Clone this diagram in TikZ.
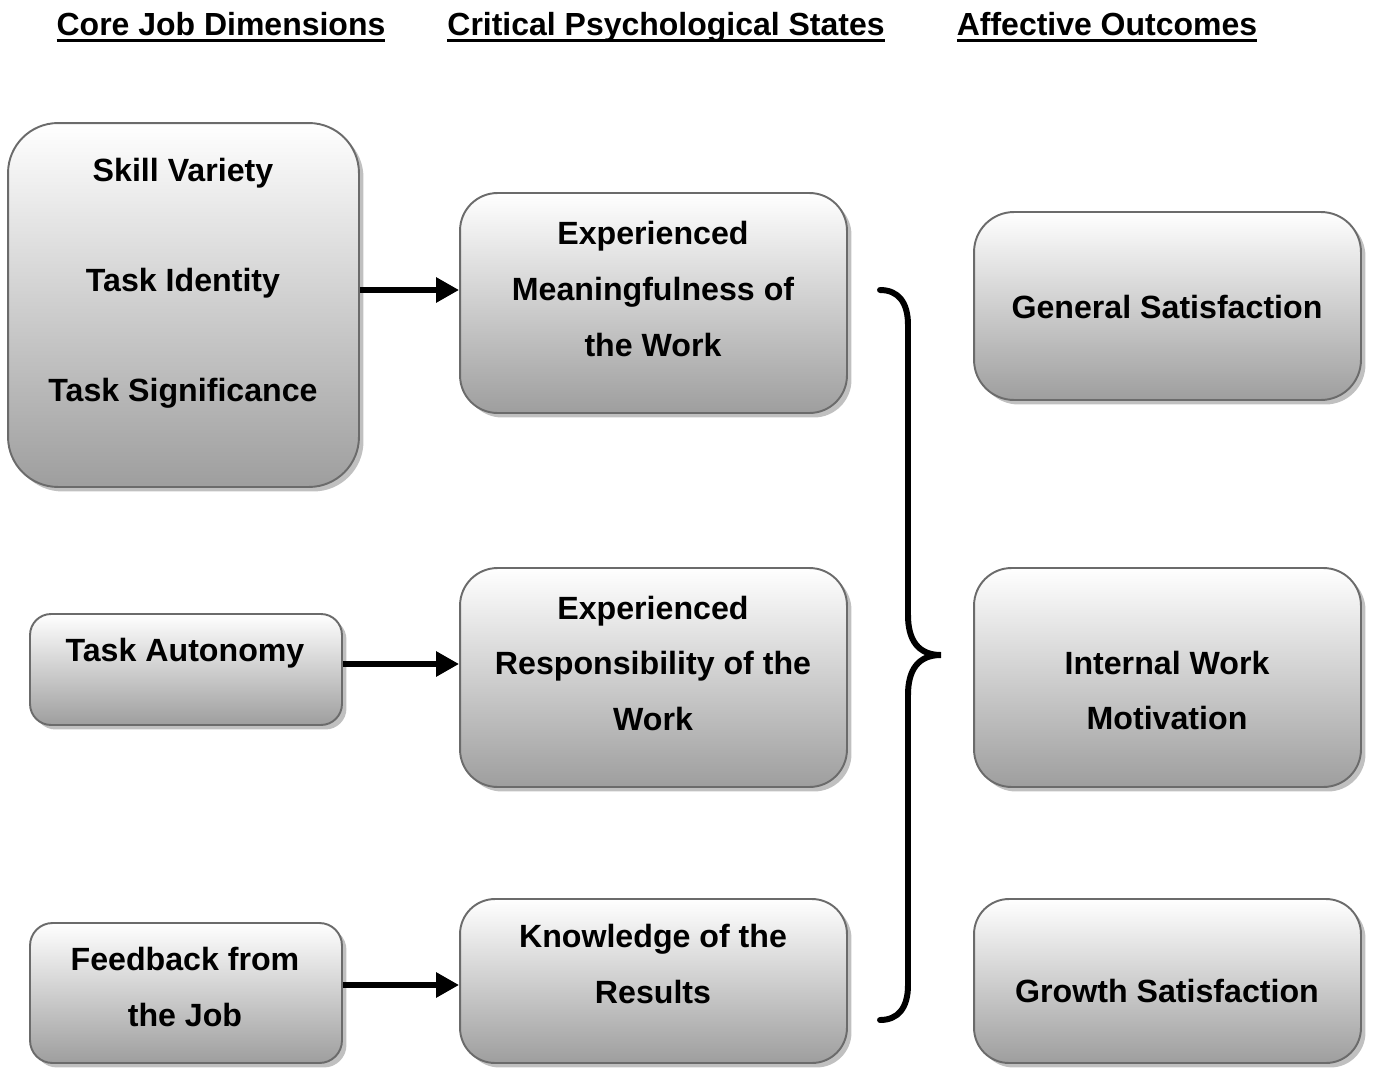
\documentclass[tikz,border=0pt]{standalone}
\usepackage{fontspec}
\setmainfont{Liberation Sans}
\usetikzlibrary{arrows.meta,shadows}
\newcommand{\hdrul}[1]{\setbox0=\hbox{#1}\rlap{\copy0}\rule[-4.2pt]{\wd0}{1.7pt}}
\tikzset{
 box/.style={draw=black!58, line width=1.1pt, top color=white, bottom color=black!38, inner sep=0pt,
   drop shadow={shadow xshift=0.9mm, shadow yshift=-0.9mm, fill=black!45, opacity=0.55}},
 txt/.style={font=\bfseries\fontsize{18.3}{31.7}\selectfont, align=center, inner sep=0pt},
 txtwide/.style={font=\bfseries\fontsize{18.3}{62.6}\selectfont, align=center, inner sep=0pt},
 hdr/.style={font=\bfseries\fontsize{18.2}{22}\selectfont, inner sep=0pt, anchor=base},
 arr/.style={line width=3.4pt, -{Triangle[length=0.46cm,width=0.48cm]}},
 brace/.style={line width=3.4pt, line cap=round},
}
\begin{document}
\begin{tikzpicture}[x=0.02cm,y=-0.02cm]
\useasboundingbox (0,0) rectangle (1373,1072);
% headers
\node[hdr] (h1) at (221,35) {\hdrul{Core Job Dimensions}};
\node[hdr] (h2) at (666,35) {\hdrul{Critical Psychological States}};
\node[hdr] (h3) at (1107,35) {\hdrul{Affective Outcomes}};
% boxes
\node[box, rounded corners=1cm, minimum width=7.02cm, minimum height=7.28cm] (a) at (183.5,305) {};
\node[box, rounded corners=0.75cm, minimum width=7.74cm, minimum height=4.4cm] (b) at (653.5,303) {};
\node[box, rounded corners=0.42cm, minimum width=6.24cm, minimum height=2.22cm] (c) at (186,669.5) {};
\node[box, rounded corners=0.75cm, minimum width=7.74cm, minimum height=4.38cm] (d) at (653.5,677.5) {};
\node[box, rounded corners=0.45cm, minimum width=6.24cm, minimum height=2.8cm] (e) at (186,993) {};
\node[box, rounded corners=0.7cm, minimum width=7.74cm, minimum height=3.28cm] (f) at (653.5,981) {};
\node[box, rounded corners=0.8cm, minimum width=7.74cm, minimum height=3.76cm] (g) at (1167.5,306) {};
\node[box, rounded corners=0.75cm, minimum width=7.74cm, minimum height=4.38cm] (h) at (1167.5,677.5) {};
\node[box, rounded corners=0.7cm, minimum width=7.74cm, minimum height=3.28cm] (i) at (1167.5,981) {};
% texts
\node[txtwide] (ta) at (183,283) {Skill Variety\\Task Identity\\Task Significance};
\node[txt] (tb) at (653,289) {Experienced\\Meaningfulness of\\the Work};
\node[txt] (tc) at (185,653) {Task Autonomy};
\node[txt] (td) at (653,663.5) {Experienced\\Responsibility of the\\Work};
\node[txt] (te) at (185,987) {Feedback from\\the Job};
\node[txt] (tf) at (653,964) {Knowledge of the\\Results};
\node[txt] (tg) at (1167,307) {General Satisfaction};
\node[txt] (th) at (1167,690.5) {Internal Work\\Motivation};
\node[txt] (ti) at (1167,991) {Growth Satisfaction};
% arrows
\draw[arr] (a.east |- 0,290) -- (b.west |- 0,290);
\draw[arr] (c.east |- 0,664) -- (d.west |- 0,664);
\draw[arr] (e.east |- 0,985) -- (f.west |- 0,985);
% brace
\draw[brace] (880,290) .. controls (898,290) and (908,302) .. (908,325) -- (908,615)
  .. controls (908,640) and (918,655) .. (941,655)
  .. controls (918,655) and (908,670) .. (908,695) -- (908,985)
  .. controls (908,1008) and (898,1020) .. (880,1020);
\end{tikzpicture}
\end{document}
